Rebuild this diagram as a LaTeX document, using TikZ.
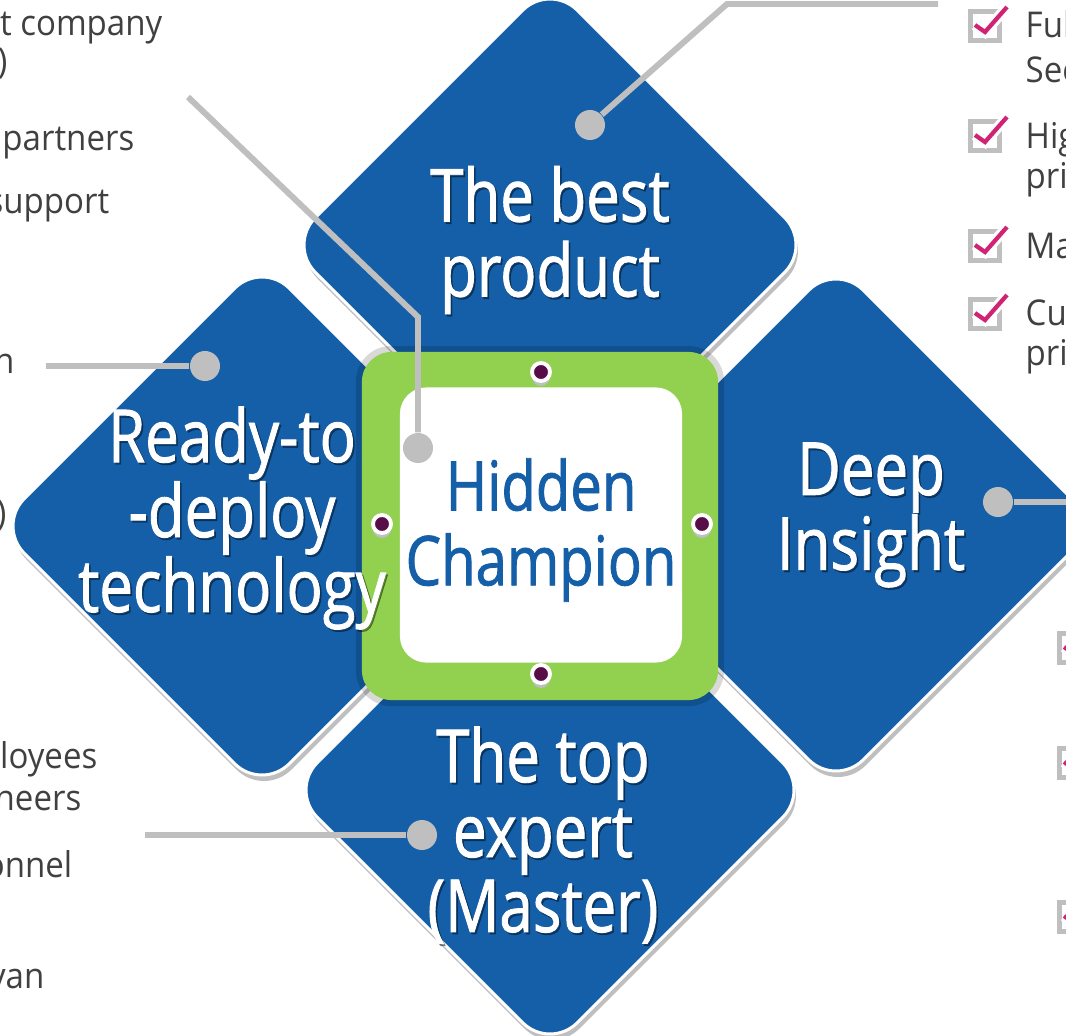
\documentclass[tikz,border=0pt]{standalone}
\usepackage{fontspec}
\setmainfont{Open Sans}[FakeStretch=0.82]
\newfontfamily\headfont{Open Sans}[FakeStretch=0.82, FakeBold=1.2]
\newfontfamily\sidefont{Open Sans}[FakeStretch=0.93]
\usetikzlibrary{positioning,shadows}
\definecolor{hcblue}{RGB}{20,95,168}
\definecolor{hcgreen}{RGB}{146,208,80}
\definecolor{hcgray}{RGB}{191,191,191}
\definecolor{hctext}{RGB}{64,64,64}
\definecolor{hcpink}{RGB}{208,35,115}
\definecolor{hcdot}{RGB}{88,12,72}
\newcommand{\blocklabel}[3]{%
  \node[title,text=black,opacity=0.35] at ([xshift=0.5pt,yshift=-0.6pt]#2) {#3};
  \node[title] (#1) at (#2) {#3};}

\begin{document}
\begin{tikzpicture}[x=0.01cm,y=-0.01cm,
    block/.style = {fill=hcblue, draw=white, line width=0.85pt, rounded corners=11pt},
    blockshadow/.style = {fill=black, opacity=0.25, rounded corners=11pt},
    title/.style = {text=white, align=center, inner sep=0pt, font=\headfont\fontsize{20.8}{21.3}\selectfont},
    hub/.style = {fill=hcgreen, rounded corners=8.5pt, minimum width=3.56cm, minimum height=3.48cm},
    core/.style = {fill=white, rounded corners=7.5pt, minimum width=2.82cm, minimum height=2.75cm},
    coretext/.style = {align=center, inner sep=0pt, text=hcblue, font=\headfont\fontsize{19.5}{21.3}\selectfont},
    pin/.style = {circle, fill=hcdot, draw=white, line width=1.1pt, minimum size=0.18cm, inner sep=0pt,
      drop shadow={shadow xshift=0pt, shadow yshift=-1.4pt, fill=hcgray, opacity=1}},
    tip/.style = {circle, fill=hcgray, minimum size=0.3cm, inner sep=0pt},
    wire/.style = {draw=hcgray, line width=1.7pt},
    lefttext/.style = {anchor=base east, inner sep=0pt, text=hctext, font=\sidefont\fontsize{10.1}{11.7}\selectfont},
    righttext/.style = {anchor=base west, inner sep=0pt, text=hctext, font=\sidefont\fontsize{10.1}{11.7}\selectfont},
    checkbox/.style = {draw=hcgray, line width=1.4pt, minimum size=0.29cm, inner sep=0pt},
    check/.style = {draw=hcpink, line width=1.2pt, preaction={draw=white, line width=3pt}}]

    \useasboundingbox (0,0) rectangle (1066,1036);
    \clip (0,0) rectangle (1066,1036);

    \foreach \cx/\cy/\r in {550/245/262, 262/526/265, 836/525/262, 550/790/260} {
        \fill[blockshadow, shift={(2,6)}] (\cx,{\cy-\r}) -- ({\cx+\r},\cy) -- (\cx,{\cy+\r}) -- ({\cx-\r},\cy) -- cycle;
        \filldraw[block] (\cx,{\cy-\r}) -- ({\cx+\r},\cy) -- (\cx,{\cy+\r}) -- ({\cx-\r},\cy) -- cycle;
    }

    \fill[black, opacity=0.15, rounded corners=10pt] (356,346) rectangle (724,706);
    \node[hub] (hub) at (540,526) {};
    \node[core] (core) at (541,525) {};
    \node[coretext] (champion) at (541,530) {Hidden\\Champion};

    \node[pin] (pin1) at (541,372) {};
    \node[pin] (pin2) at (541,674) {};
    \node[pin] (pin3) at (382,524) {};
    \node[pin] (pin4) at (702,524) {};

    \blocklabel{best}{550,240}{The best\\product}
    \blocklabel{ready}{232,518}{Ready-to\\-deploy\\technology}
    \blocklabel{deep}{871,515}{Deep\\Insight}
    \blocklabel{expert}{543,835}{The top\\expert\\(Master)}

    \node[tip] (tipbest) at (590,125) {};
    \coordinate (bendbest) at (727,4);
    \coordinate (endbest) at (938,4);
    \draw[wire] (tipbest) -- (bendbest) -- (endbest);

    \node[tip] (tiphub) at (418,448) {};
    \coordinate (bendhub) at (418,317);
    \coordinate (endhub) at (188,97);
    \draw[wire] (tiphub) -- (bendhub) -- (endhub);

    \node[tip] (tipready) at (205,366) {};
    \coordinate (endready) at (46,366);
    \draw[wire] (tipready) -- (endready);

    \node[tip] (tipdeep) at (998,502) {};
    \coordinate (enddeep) at (1070,502);
    \draw[wire] (tipdeep) -- (enddeep);

    \node[tip] (tipexpert) at (422,835) {};
    \coordinate (endexpert) at (145,835);
    \draw[wire] (tipexpert) -- (endexpert);

    \node[lefttext] (l1) at (163,35) {t company};
    \node[lefttext] (l2) at (8,73) {)};
    \node[lefttext] (l3) at (135,150) {partners};
    \node[lefttext] (l4) at (110,213) {support};
    \node[lefttext] (l5) at (15,373) {n};
    \node[lefttext] (l6) at (7,525) {)};
    \node[lefttext] (l7) at (98,768) {loyees};
    \node[lefttext] (l8) at (82,810) {neers};
    \node[lefttext] (l9) at (73,877) {onnel};
    \node[lefttext] (l10) at (45,988) {van};

    \node[righttext] (r1) at (1025,37) {Ful};
    \node[righttext] (r2) at (1025,82) {Sec};
    \node[righttext] (r3) at (1025,148) {Hig};
    \node[righttext] (r4) at (1025,188) {pri};
    \node[righttext] (r5) at (1025,258) {Ma};
    \node[righttext] (r6) at (1025,325) {Cu};
    \node[righttext] (r7) at (1025,365) {pri};

    \foreach \bx/\by [count=\i] in {985/26, 985/136, 985/246, 985/314, 1074/648, 1074/763, 1074/917} {
        \node[checkbox] (box\i) at (\bx,\by) {};
        \draw[check] ([shift={(-10,-1)}]box\i.center) -- ([shift={(0,6)}]box\i.center) -- ([shift={(22,-19)}]box\i.center);
    }
\end{tikzpicture}
\end{document}
